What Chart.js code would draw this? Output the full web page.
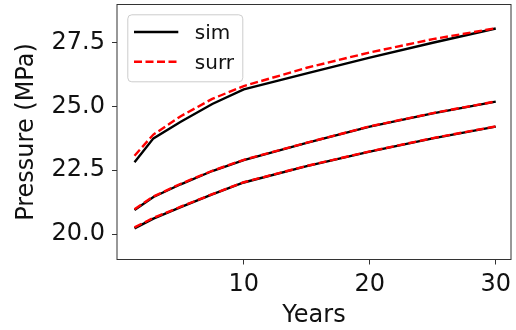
<!DOCTYPE html>
<html>
<head>
<meta charset="utf-8">
<script src="https://cdn.jsdelivr.net/npm/chart.js@4.4.0/dist/chart.umd.min.js"></script>
<style>
  html, body { margin: 0; padding: 0; background: #fff; }
  #wrap { width: 516px; height: 330px; }
</style>
</head>
<body>
<div id="wrap"><canvas id="pressureChart"></canvas></div>
<script>
// Years sampled for every curve
const years = [1.33, 2.83, 5, 7.5, 10, 15, 20, 25, 30];

// Simulated pressure (MPa), three cases
const simHigh = [22.81, 23.75, 24.40, 25.10, 25.67, 26.30, 26.92, 27.50, 28.06];
const simMid  = [20.94, 21.45, 21.95, 22.47, 22.90, 23.57, 24.21, 24.73, 25.19];
const simLow  = [20.22, 20.60, 21.05, 21.55, 22.02, 22.66, 23.23, 23.75, 24.21];

// Surrogate prediction (MPa), same cases
const surrHigh = [23.07, 23.90, 24.62, 25.30, 25.80, 26.52, 27.12, 27.64, 28.07];
const surrMid  = [20.97, 21.47, 21.97, 22.48, 22.91, 23.58, 24.22, 24.74, 25.20];
const surrLow  = [20.26, 20.63, 21.07, 21.56, 22.03, 22.67, 23.24, 23.76, 24.22];

const xTicks = [10, 20, 30];
const yTicks = [20, 22.5, 25, 27.5];
const legendLabels = ['sim', 'surr'];

const FONT = 'DejaVu Sans';
const TEXT = '#111';
const SPINE = '#333';
const LW = 2.4;

function pts(ys) {
    return years.map((x, i) => ({ x: x, y: ys[i] }));
}

function simSet(ys) {
    return { data: pts(ys), borderColor: '#000', borderWidth: LW, pointRadius: 0, order: 1 };
}
function surrSet(ys) {
    return { data: pts(ys), borderColor: '#ff0000', borderWidth: LW, borderDash: [8, 3.5], pointRadius: 0, order: 0 };
}

// Frame around the plot area (all four sides)
const frame = {
    id: 'frame',
    afterDatasetsDraw(chart) {
        const a = chart.chartArea;
        const ctx = chart.ctx;
        ctx.save();
        ctx.strokeStyle = SPINE;
        ctx.lineWidth = 1;
        ctx.strokeRect(a.left, a.top, a.right - a.left, a.bottom - a.top);
        ctx.restore();
    }
};

// Boxed legend in the upper-left corner of the plot
const legendBox = {
    id: 'legendBox',
    afterDraw(chart) {
        const a = chart.chartArea;
        const ctx = chart.ctx;
        const x = a.left + 10.3, y = a.top + 9.8, w = 115, h = 67;
        ctx.save();
        ctx.beginPath();
        ctx.roundRect(x + 0.5, y + 0.5, w, h, 4);
        ctx.fillStyle = 'rgba(255,255,255,0.8)';
        ctx.fill();
        ctx.strokeStyle = '#cccccc';
        ctx.lineWidth = 1;
        ctx.stroke();

        const styles = [
            { color: '#000', dash: [] },
            { color: '#ff0000', dash: [8, 3.5] }
        ];
        ctx.font = '20px "' + FONT + '"';
        ctx.textBaseline = 'alphabetic';
        legendLabels.forEach((label, i) => {
            const ly = y + 17.7 + i * 29.7;
            ctx.beginPath();
            ctx.setLineDash(styles[i].dash);
            ctx.strokeStyle = styles[i].color;
            ctx.lineWidth = LW;
            ctx.moveTo(x + 6.7, ly);
            ctx.lineTo(x + 51, ly);
            ctx.stroke();
            ctx.setLineDash([]);
            ctx.fillStyle = TEXT;
            ctx.fillText(label, x + 67.5, ly + 7.3);
        });
        ctx.restore();
    }
};

new Chart(document.getElementById('pressureChart'), {
    type: 'line',
    data: {
        datasets: [
            simSet(simHigh), surrSet(surrHigh),
            simSet(simMid), surrSet(surrMid),
            simSet(simLow), surrSet(surrLow)
        ]
    },
    options: {
        responsive: true,
        maintainAspectRatio: false,
        animation: false,
        events: [],
        layout: { padding: { top: 4.5, right: 5, left: 0, bottom: 0 } },
        plugins: {
            legend: { display: false },
            tooltip: { enabled: false }
        },
        scales: {
            x: {
                type: 'linear',
                min: -0.06,
                max: 31.21,
                afterBuildTicks: s => { s.ticks = xTicks.map(v => ({ value: v })); },
                afterFit: s => { s.height = 70.5; s.paddingLeft = 0; s.paddingRight = 0; },
                border: { display: false },
                grid: { drawOnChartArea: false, drawTicks: true, tickLength: 5, tickColor: SPINE, tickWidth: 1 },
                ticks: {
                    color: TEXT,
                    padding: 6,
                    maxRotation: 0,
                    font: { family: FONT, size: 24 },
                    callback: v => String(v)
                },
                title: {
                    display: true,
                    text: 'Years',
                    color: TEXT,
                    font: { family: FONT, size: 24 },
                    padding: { top: 0, bottom: 0 }
                }
            },
            y: {
                min: 19,
                max: 29,
                afterBuildTicks: s => { s.ticks = yTicks.map(v => ({ value: v })); },
                afterFit: s => { s.width = 117; s.paddingTop = 0; s.paddingBottom = 0; },
                border: { display: false },
                grid: { drawOnChartArea: false, drawTicks: true, tickLength: 5, tickColor: SPINE, tickWidth: 1 },
                ticks: {
                    color: TEXT,
                    padding: 7,
                    font: { family: FONT, size: 24 },
                    callback: v => Number(v).toFixed(1)
                },
                title: {
                    display: true,
                    text: 'Pressure (MPa)',
                    color: TEXT,
                    font: { family: FONT, size: 24 },
                    padding: { top: 12, bottom: 0 }
                }
            }
        }
    },
    plugins: [frame, legendBox]
});
</script>
</body>
</html>
